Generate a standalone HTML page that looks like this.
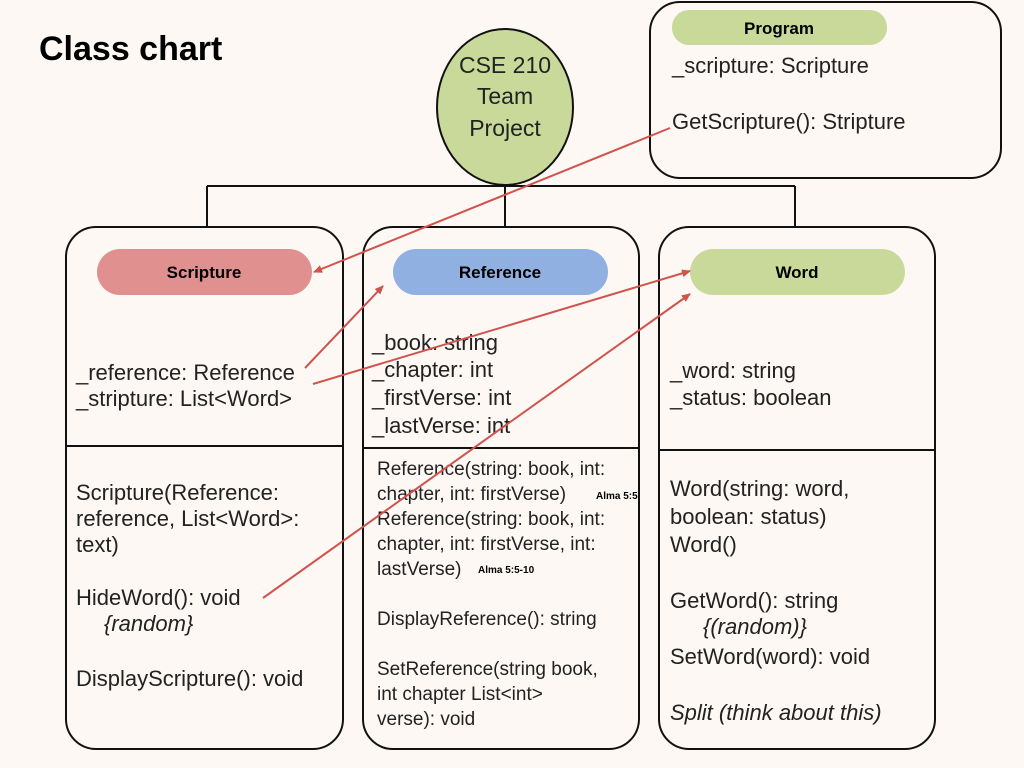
<!DOCTYPE html>
<html><head><meta charset="utf-8"><style>
html,body{margin:0;padding:0;background:#fdf8f4;}
svg{display:block;}
text{font-family:"Liberation Sans",sans-serif;fill:#222;}
.t{font-size:22px;}
.s{font-size:19px;}
.b{font-weight:bold;font-size:17px;fill:#000;}
</style></head><body>
<svg width="1024" height="768" viewBox="0 0 1024 768" xmlns="http://www.w3.org/2000/svg">
<defs><marker id="a" markerWidth="10" markerHeight="10" refX="8" refY="5" orient="auto" markerUnits="userSpaceOnUse"><path d="M0,1 L9,5 L0,9 Z" fill="#d0534d"/></marker></defs>
<rect width="1024" height="768" fill="#fdf8f4"/>
<text x="39" y="60" style="font-size:34px;font-weight:bold;fill:#000">Class chart</text>
<ellipse cx="505" cy="107" rx="68" ry="78" fill="#c9d99a" stroke="#111" stroke-width="2"/>
<text x="505" y="73" text-anchor="middle" style="font-size:23px">CSE 210</text>
<text x="505" y="104" text-anchor="middle" style="font-size:23px">Team</text>
<text x="505" y="136" text-anchor="middle" style="font-size:23px">Project</text>
<path d="M505 185 V186 M207 186 H795 M207 186 V227 M505 186 V227 M795 186 V227" stroke="#111" stroke-width="2" fill="none"/>
<rect x="650" y="2" width="351" height="176" rx="30" fill="#fdf8f4" stroke="#111" stroke-width="2"/>
<rect x="672" y="10" width="215" height="35" rx="17" fill="#c9d99a"/>
<text x="779" y="34" text-anchor="middle" class="b">Program</text>
<text x="672" y="73" class="t">_scripture: Scripture</text>
<text x="672" y="129" class="t">GetScripture(): Stripture</text>
<rect x="66" y="227" width="277" height="522" rx="30" fill="#fdf8f4" stroke="#111" stroke-width="2"/>
<line x1="66" y1="446" x2="343" y2="446" stroke="#111" stroke-width="2"/>
<rect x="97" y="249" width="215" height="46" rx="23" fill="#e0908f"/>
<text x="204" y="278" text-anchor="middle" class="b">Scripture</text>
<text x="76" y="380" class="t">_reference: Reference</text>
<text x="76" y="406" class="t">_stripture: List&lt;Word&gt;</text>
<text x="76" y="500" class="t">Scripture(Reference:</text>
<text x="76" y="526" class="t">reference, List&lt;Word&gt;:</text>
<text x="76" y="552" class="t">text)</text>
<text x="76" y="605" class="t">HideWord(): void</text>
<text x="104" y="631" class="t" font-style="italic">{random}</text>
<text x="76" y="686" class="t">DisplayScripture(): void</text>
<rect x="363" y="227" width="276" height="522" rx="30" fill="#fdf8f4" stroke="#111" stroke-width="2"/>
<line x1="363" y1="448" x2="639" y2="448" stroke="#111" stroke-width="2"/>
<rect x="393" y="249" width="215" height="46" rx="23" fill="#8fb0e0"/>
<text x="500" y="278" text-anchor="middle" class="b">Reference</text>
<text x="372" y="350" class="t">_book: string</text>
<text x="372" y="377" class="t">_chapter: int</text>
<text x="372" y="405" class="t">_firstVerse: int</text>
<text x="372" y="433" class="t">_lastVerse: int</text>
<text x="377" y="475" class="s">Reference(string: book, int:</text>
<text x="377" y="500" class="s">chapter, int: firstVerse)</text>
<text x="596" y="499" style="font-size:10px;font-weight:bold;fill:#000">Alma 5:5</text>
<text x="377" y="525" class="s">Reference(string: book, int:</text>
<text x="377" y="550" class="s">chapter, int: firstVerse, int:</text>
<text x="377" y="575" class="s">lastVerse)</text>
<text x="478" y="573" style="font-size:10px;font-weight:bold;fill:#000">Alma 5:5-10</text>
<text x="377" y="625" class="s">DisplayReference(): string</text>
<text x="377" y="675" class="s">SetReference(string book,</text>
<text x="377" y="700" class="s">int chapter List&lt;int&gt;</text>
<text x="377" y="725" class="s">verse): void</text>
<rect x="659" y="227" width="276" height="522" rx="30" fill="#fdf8f4" stroke="#111" stroke-width="2"/>
<line x1="659" y1="450" x2="935" y2="450" stroke="#111" stroke-width="2"/>
<rect x="690" y="249" width="215" height="46" rx="23" fill="#c9d99a"/>
<text x="797" y="278" text-anchor="middle" class="b">Word</text>
<text x="670" y="378" class="t">_word: string</text>
<text x="670" y="405" class="t">_status: boolean</text>
<text x="670" y="496" class="t">Word(string: word,</text>
<text x="670" y="524" class="t">boolean: status)</text>
<text x="670" y="552" class="t">Word()</text>
<text x="670" y="608" class="t">GetWord(): string</text>
<text x="703" y="634" class="t" font-style="italic">{(random)}</text>
<text x="670" y="664" class="t">SetWord(word): void</text>
<text x="670" y="720" class="t" font-style="italic">Split (think about this)</text>
<g stroke="#d0534d" stroke-width="2" fill="none">
<line x1="670" y1="128" x2="314" y2="272" marker-end="url(#a)"/>
<line x1="305" y1="368" x2="383" y2="286" marker-end="url(#a)"/>
<line x1="313" y1="384" x2="690" y2="271" marker-end="url(#a)"/>
<line x1="263" y1="598" x2="690" y2="294" marker-end="url(#a)"/>
</g>
</svg>
</body></html>
